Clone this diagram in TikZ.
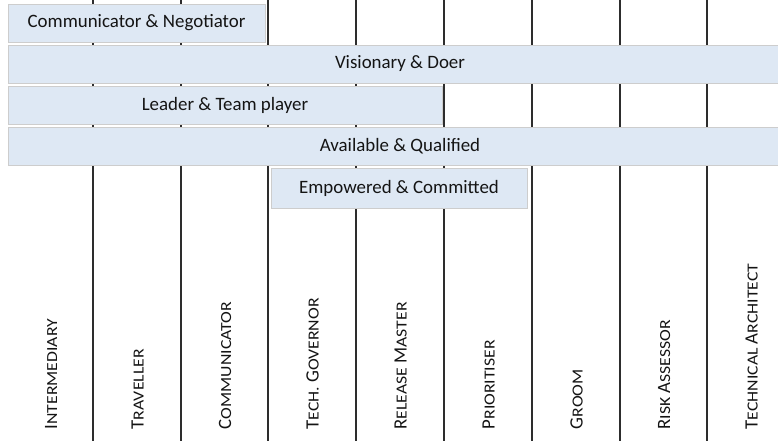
\documentclass[tikz,border=0pt]{standalone}
\usepackage{fontspec}
\setmainfont{Carlito}
\newfontfamily\scwide[FakeStretch=1.15]{Carlito}
\definecolor{barfill}{RGB}{222,232,244}
\definecolor{barline}{RGB}{205,205,205}
\definecolor{colline}{RGB}{45,45,45}
\definecolor{txt}{RGB}{20,20,20}
\newcommand\mysc[2]{{\fontsize{18.8}{20}\selectfont #1}{\scwide\fontsize{15.4}{18}\selectfont #2}}
\begin{document}
\begin{tikzpicture}[x=1pt,y=-1pt,
  bar/.style={draw=barline, line width=0.8pt, fill=barfill, inner sep=0pt, text=txt, font=\fontsize{18.9}{20}\selectfont},
  colrule/.style={draw=colline, line width=1.6pt},
  rolelabel/.style={rotate=90, anchor=base west, inner sep=0pt, text=txt}]
\path[use as bounding box] (0,0) rectangle (778,441);
\clip (0,0) rectangle (778,441);
% column rules
\foreach \x [count=\i] in {93,181,268,356,444,532,620,707} {
  \coordinate (t\i) at (\x,0);
  \coordinate (u\i) at (\x,441);
  \draw[colrule] (t\i) -- (u\i);
}
% bars
\node[bar, minimum width=257pt, minimum height=38pt] (b1) at (136.5,23) {Communicator \& Negotiator};
\node[bar, minimum width=784pt, minimum height=38pt] (b2) at (400,64) {Visionary \& Doer};
\node[bar, minimum width=434pt, minimum height=38pt] (b3) at (225,105) {Leader \& Team player};
\node[bar, minimum width=784pt, minimum height=38pt] (b4) at (400,146) {Available \& Qualified};
\node[bar, minimum width=256pt, minimum height=40pt] (b5) at (399,188) {Empowered \& Committed};
% role labels
\node[rolelabel] (r1) at (57,429.5) {\mysc{I}{NTERMEDIARY}};
\node[rolelabel] (r2) at (143.5,429.5) {\mysc{T}{RAVELLER}};
\node[rolelabel] (r3) at (231,429.5) {\mysc{C}{OMMUNICATOR}};
\node[rolelabel] (r4) at (318.5,429.5) {\mysc{T}{ECH. }\mysc{G}{OVERNOR}};
\node[rolelabel] (r5) at (406.5,429.5) {\mysc{R}{ELEASE }\mysc{M}{ASTER}};
\node[rolelabel] (r6) at (494.5,429.5) {\mysc{P}{RIORITISER}};
\node[rolelabel] (r7) at (582.5,429.5) {\mysc{G}{ROOM}};
\node[rolelabel] (r8) at (670,429.5) {\mysc{R}{ISK }\mysc{A}{SSESSOR}};
\node[rolelabel] (r9) at (757.5,429.5) {\mysc{T}{ECHNICAL }\mysc{A}{RCHITECT}};
\end{tikzpicture}
\end{document}
